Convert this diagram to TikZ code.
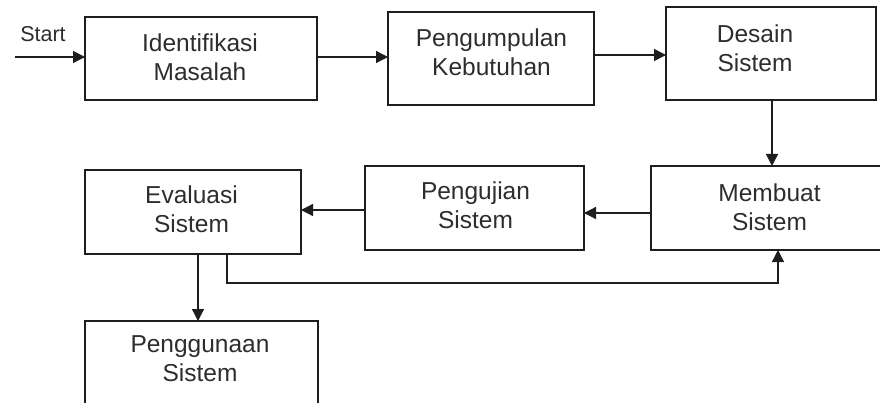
\documentclass[tikz,border=0pt]{standalone}
\usepackage{fontspec}
\setmainfont{Liberation Sans}
\usetikzlibrary{arrows.meta}
\definecolor{ink}{RGB}{30,30,30}
\definecolor{txtc}{RGB}{45,45,45}
\begin{document}
\begin{tikzpicture}[x=1pt,y=-1pt,
  box/.style={draw=ink,line width=1.5pt,rectangle,inner sep=0pt,outer sep=0pt},
  lbl/.style={text=txtc,align=center,inner sep=0pt,font=\fontsize{24.5}{29}\selectfont},
  arr/.style={draw=ink,line width=1.3pt,-{Triangle[length=12pt,width=12pt]}},
  ln/.style={draw=ink,line width=1.3pt}]
\useasboundingbox (0,0) rectangle (880,403);
\clip (0,0) rectangle (880,403);
% boxes
\node[box,minimum width=232pt,minimum height=83pt] (a) at (201,58.5) {};
\node[box,minimum width=206pt,minimum height=93pt] (b) at (491,58.5) {};
\node[box,minimum width=210pt,minimum height=93pt] (c) at (771,53.5) {};
\node[box,minimum width=239pt,minimum height=84pt] (d) at (770.5,208) {};
\node[box,minimum width=219pt,minimum height=84pt] (e) at (474.5,208) {};
\node[box,minimum width=216pt,minimum height=84pt] (f) at (193,212) {};
\node[box,minimum width=233pt,minimum height=99pt] (g) at (201.5,370.5) {};
% labels
\node[lbl] (ta) at (200,57) {Identifikasi\\Masalah};
\node[lbl] (tb) at (491.5,52) {Pengumpulan\\Kebutuhan};
\node[lbl] (tc) at (755,48) {Desain\\Sistem};
\node[lbl] (td) at (769.5,207) {Membuat\\Sistem};
\node[lbl] (te) at (475.5,205.5) {Pengujian\\Sistem};
\node[lbl] (tf) at (191.5,209) {Evaluasi\\Sistem};
\node[lbl] (tg) at (200,359) {Penggunaan\\Sistem};
\node[text=txtc,inner sep=0pt,font=\fontsize{21.5}{25}\selectfont] (st) at (43,34) {Start};
% connectors
\coordinate (s0) at (15,57);
\draw[arr] (s0) -- (a.west |- s0);
\draw[arr] (a.east |- 0,57) -- (b.west |- 0,57);
\draw[arr] (b.east |- 0,55) -- (c.west |- 0,55);
\draw[arr] (c.south -| 772,0) -- (d.north -| 772,0);
\draw[arr] (d.west |- 0,213) -- (e.east |- 0,213);
\draw[arr] (e.west |- 0,210) -- (f.east |- 0,210);
\draw[arr] (f.south -| 198,0) -- (g.north -| 198,0);
\draw[arr] (f.south -| 227,0) -- (227,283) -- (778,283) -- (d.south -| 778,0);
\end{tikzpicture}
\end{document}
